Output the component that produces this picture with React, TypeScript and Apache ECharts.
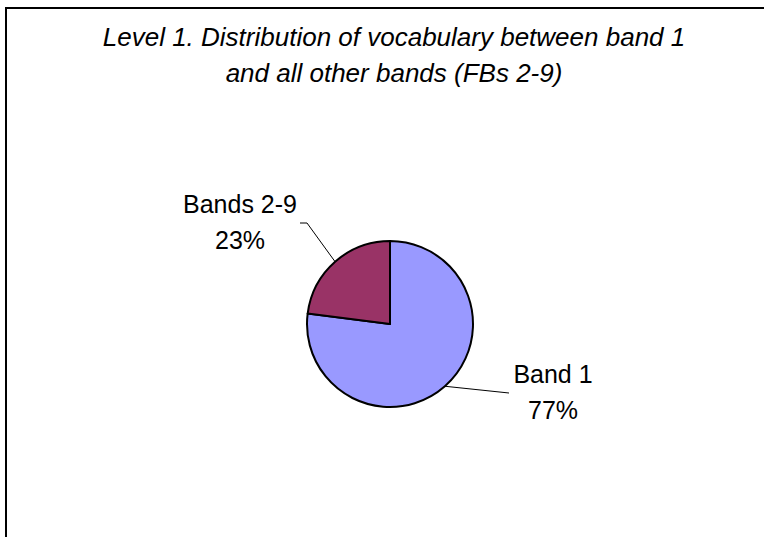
import React, { useEffect, useRef } from "react";
import * as echarts from "echarts";

const CATEGORIES = ["Band 1", "Bands 2-9"];
const VALUES = [77, 23];
const COLORS = ["#9999FF", "#993366"];
const TITLE_LINES = [
  "Level 1. Distribution of vocabulary between band 1",
  "and all other bands (FBs 2-9)",
];

// label block centres and leader-line elbows, per slice
const LABEL_POS = [
  { x: 553, y: 392, elbow: [509, 393], end: [509, 393] },
  { x: 240, y: 222, elbow: [307, 223], end: [300, 223] },
];

const FONT = "'Liberation Sans', Arial, sans-serif";

export default function App() {
  const ref = useRef<HTMLDivElement>(null);

  useEffect(() => {
    if (!ref.current) return;
    const chart = echarts.init(ref.current, null, { renderer: "svg" });
    chart.setOption({
      animation: false,
      backgroundColor: "#ffffff",
      title: {
        text: TITLE_LINES.join("\n"),
        left: 389,
        top: 14,
        textAlign: "center",
        textStyle: {
          fontFamily: FONT,
          fontSize: 26,
          fontStyle: "italic",
          fontWeight: "normal",
          color: "#000",
          lineHeight: 36,
          align: "center",
        },
      },
      graphic: [
        {
          type: "rect",
          shape: { x: 6, y: 8, width: 800, height: 600 },
          style: { fill: "none", stroke: "#000", lineWidth: 2 },
          silent: true,
        },
      ],
      series: [
        {
          type: "pie",
          center: [390, 324],
          radius: 83,
          startAngle: 90,
          clockwise: true,
          percentPrecision: 0,
          data: CATEGORIES.map((name, i) => ({
            name,
            value: VALUES[i],
            itemStyle: { color: COLORS[i] },
          })),
          itemStyle: { borderColor: "#000", borderWidth: 2 },
          label: {
            show: true,
            position: "outside",
            formatter: "{b}\n{d}%",
            fontFamily: FONT,
            fontSize: 25,
            lineHeight: 36,
            color: "#000",
            align: "center",
          },
          labelLine: {
            show: true,
            lineStyle: { color: "#000", width: 1 },
          },
          labelLayout: (params: any) => {
            const p = LABEL_POS[params.dataIndex];
            const start = params.labelLinePoints
              ? params.labelLinePoints[0]
              : [p.elbow[0], p.elbow[1]];
            return {
              x: p.x,
              y: p.y,
              align: "center",
              verticalAlign: "middle",
              labelLinePoints: [start, p.elbow, p.end],
            };
          },
          emphasis: { disabled: true },
        },
      ],
    });
    return () => chart.dispose();
  }, []);

  return (
    <div
      ref={ref}
      style={{
        position: "fixed",
        left: 0,
        top: 0,
        width: 764,
        height: 537,
        background: "#fff",
      }}
    />
  );
}
